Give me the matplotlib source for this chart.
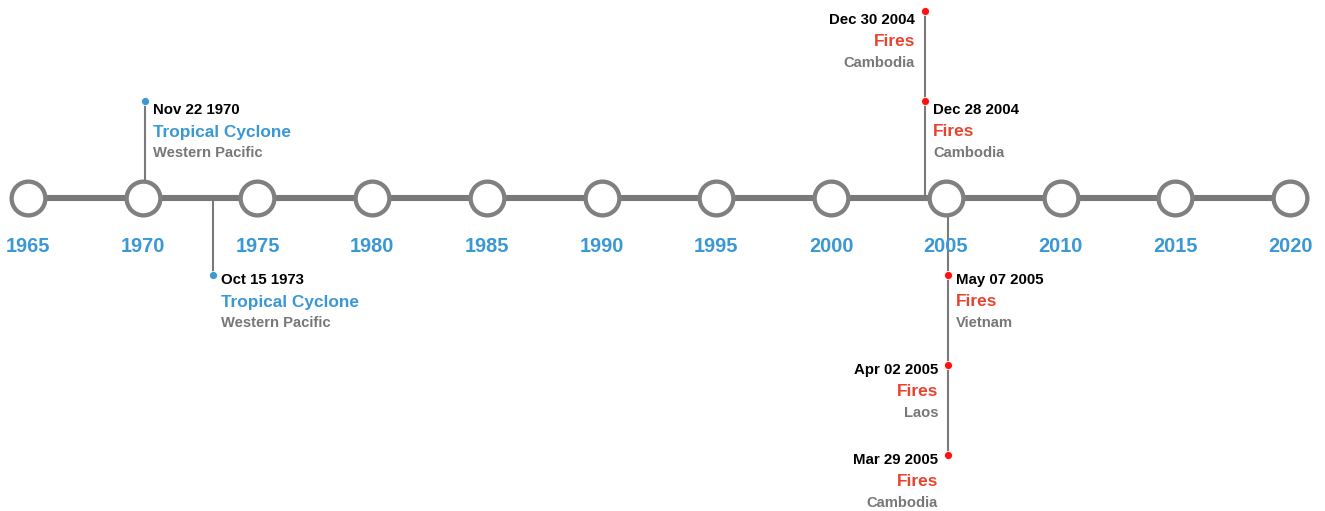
import matplotlib
matplotlib.use("Agg")
import matplotlib.pyplot as plt

# ---- data ----
years = [1965, 1970, 1975, 1980, 1985, 1990, 1995, 2000, 2005, 2010, 2015, 2020]
event_dates = ["Nov 22 1970", "Oct 15 1973", "Dec 30 2004", "Dec 28 2004",
               "May 07 2005", "Apr 02 2005", "Mar 29 2005"]
event_x = [1970.1, 1973.06, 2004.09, 2004.09, 2005.1, 2005.1, 2005.1]
event_titles = ["Tropical Cyclone", "Tropical Cyclone", "Fires", "Fires",
                "Fires", "Fires", "Fires"]
event_places = ["Western Pacific", "Western Pacific", "Cambodia", "Cambodia",
                "Vietnam", "Laos", "Cambodia"]
event_levels = [1, -1, 2, 1, -1, -2, -3]     # + above the line, - below
event_sides = ["right", "right", "left", "right", "right", "left", "left"]
event_kind = ["cyclone", "cyclone", "fire", "fire", "fire", "fire", "fire"]

# ---- style ----
W, H = 1325, 511
fig = plt.figure(figsize=(W / 100, H / 100), dpi=100)
ax = fig.add_axes([0, 0, 1, 1])
ppy = (1290 - 28) / 55.0
ax.set_xlim(1965 - 28 / ppy, 1965 + (W - 28) / ppy)
ax.set_ylim(H, 0)
ax.axis("off")

AXIS_Y = 198
FONT = "Liberation Sans"
BLUE = "#3a98d4"
RED = "#e8432f"
GRAY = "#777777"
kind_dot = {"cyclone": "#3a98d4", "fire": "#ff1111"}
kind_title = {"cyclone": BLUE, "fire": RED}


def level_y(lv):
    if lv > 0:
        return AXIS_Y - 97 - 90 * (lv - 1)
    return AXIS_Y + 77 + 90 * (-lv - 1)


# timeline
ax.plot([years[0], years[-1]], [AXIS_Y, AXIS_Y], color="#797979", lw=4.4,
        solid_capstyle="butt", zorder=1)

# connectors (group by x)
groups = {}
for x, lv in zip(event_x, event_levels):
    groups.setdefault(x, []).append(level_y(lv))
for x, ys in groups.items():
    ys2 = ys + [AXIS_Y]
    ax.plot([x, x], [min(ys2), max(ys2)], color="#7a7a7a", lw=1.5, zorder=0.5)

# year circles
ax.plot(years, [AXIS_Y] * len(years), "o", ms=24.3, mfc="white",
        mec="#808080", mew=3.1, zorder=3, linestyle="none")
for yr in years:
    ax.text(yr, 246, str(yr), ha="center", va="center", color=BLUE,
            fontsize=14.4, fontweight="bold", family=FONT, zorder=4)

# events
for x, d, t, p, lv, side, k in zip(event_x, event_dates, event_titles,
                                      event_places, event_levels,
                                      event_sides, event_kind):
    y = level_y(lv)
    shift = 0 if lv > 0 else -4
    ax.plot([x], [y], "o", ms=5.8, color=kind_dot[k], mec="white", mew=0.6,
            zorder=5)
    if side == "right":
        tx = x + 8 / ppy
        ha = "left"
    else:
        tx = x - 10 / ppy
        ha = "right"
    ax.text(tx, y + 9 + shift, d, ha=ha, va="center", color="black",
            fontsize=10.8, fontweight="bold", family=FONT)
    ax.text(tx, y + 31 + shift, t, ha=ha, va="center", color=kind_title[k],
            fontsize=12.4, fontweight="bold", family=FONT)
    ax.text(tx, y + 52 + shift, p, ha=ha, va="center", color=GRAY,
            fontsize=10.6, fontweight="bold", family=FONT)

fig.savefig("out.png", dpi=100)
